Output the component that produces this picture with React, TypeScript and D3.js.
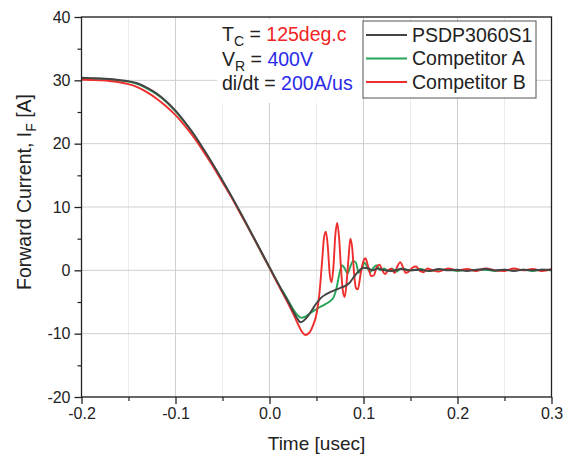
import React, { useEffect, useRef } from 'react';
import * as d3 from 'd3';

type Pt = [number, number];

// time [usec], forward current [A]
const psdp3060s1: Pt[] = [
  [-0.2, 30.4], [-0.19, 30.35], [-0.18, 30.3], [-0.17, 30.2], [-0.16, 30.05], [-0.15, 29.85], [-0.14, 29.5],
  [-0.13, 28.8], [-0.12, 27.9], [-0.11, 26.7], [-0.1, 25.2], [-0.09, 23.4], [-0.08, 21.4], [-0.07, 19.1],
  [-0.06, 16.7], [-0.05, 14.2], [-0.04, 11.6], [-0.03, 8.9], [-0.02, 6.1], [-0.01, 3.3], [0, 0.5],
  [0.01, -2.3], [0.02, -5.0], [0.025, -6.4], [0.03, -7.7], [0.033, -8.2], [0.036, -8.0], [0.04, -7.4],
  [0.045, -6.3], [0.05, -5.2], [0.055, -4.3], [0.06, -3.8], [0.065, -3.4], [0.07, -3.1], [0.075, -2.8],
  [0.08, -2.5], [0.085, -2.0], [0.09, -1.0], [0.095, -0.1], [0.1, 0.4], [0.105, 0.3], [0.11, 0.0],
  [0.115, 0.3], [0.12, 0.1], [0.13, -0.1], [0.14, 0.2], [0.15, 0.0], [0.16, 0.1], [0.17, -0.1],
  [0.18, 0.2], [0.19, 0.0], [0.2, 0.1], [0.21, -0.1], [0.22, 0.1], [0.23, 0.2], [0.24, 0.0], [0.25, 0.1],
  [0.26, -0.1], [0.27, 0.1], [0.28, 0.0], [0.29, 0.1], [0.3, 0.1],
];

const competitorA: Pt[] = [
  [-0.2, 30.3], [-0.18, 30.25], [-0.16, 30.0], [-0.15, 29.8], [-0.14, 29.4], [-0.13, 28.7], [-0.12, 27.8],
  [-0.11, 26.6], [-0.1, 25.1], [-0.09, 23.3], [-0.08, 21.3], [-0.07, 19.0], [-0.06, 16.6], [-0.05, 14.1],
  [-0.04, 11.5], [-0.03, 8.8], [-0.02, 6.0], [-0.01, 3.2], [0, 0.4], [0.01, -2.3], [0.02, -4.8],
  [0.025, -6.1], [0.03, -7.1], [0.034, -7.5], [0.038, -7.3], [0.042, -6.9], [0.046, -6.5], [0.05, -6.1],
  [0.055, -5.7], [0.06, -5.3], [0.065, -4.8], [0.068, -4.3], [0.071, -3.0], [0.074, -0.8], [0.077, 0.8],
  [0.08, 0.3], [0.083, -0.5], [0.086, 0.6], [0.089, 1.5], [0.092, 1.2], [0.095, -0.4], [0.098, 0.2],
  [0.101, 1.2], [0.104, 0.5], [0.107, -0.3], [0.11, 0.3], [0.114, 0.8], [0.118, 0.0], [0.122, 0.3],
  [0.126, -0.1], [0.13, 0.3], [0.135, -0.2], [0.14, 0.3], [0.15, 0.0], [0.16, 0.2], [0.17, -0.1],
  [0.18, 0.1], [0.19, 0.1], [0.2, -0.1], [0.21, 0.1], [0.22, 0.0], [0.23, 0.1], [0.24, -0.1], [0.25, 0.1],
  [0.26, 0.0], [0.27, 0.1], [0.28, -0.1], [0.29, 0.1], [0.3, 0.0],
];

const competitorB: Pt[] = [
  [-0.2, 30.1], [-0.19, 30.05], [-0.18, 30.0], [-0.17, 29.9], [-0.16, 29.7], [-0.15, 29.4], [-0.14, 28.9],
  [-0.13, 28.1], [-0.12, 27.1], [-0.11, 25.9], [-0.1, 24.5], [-0.09, 22.8], [-0.08, 20.9], [-0.07, 18.7],
  [-0.06, 16.4], [-0.05, 13.9], [-0.04, 11.4], [-0.03, 8.7], [-0.02, 6.0], [-0.01, 3.2], [0, 0.4],
  [0.01, -2.5], [0.02, -5.3], [0.025, -6.8], [0.03, -8.4], [0.035, -9.8], [0.038, -10.2], [0.042, -9.9],
  [0.046, -8.8], [0.05, -6.9], [0.053, -3.8], [0.056, 1.5], [0.058, 5.2], [0.06, 6.1], [0.062, 3.8],
  [0.064, -0.5], [0.066, -1.9], [0.068, 0.5], [0.07, 5.5], [0.072, 7.5], [0.074, 5.2], [0.076, 0.5],
  [0.078, -3.2], [0.08, -4.2], [0.082, -2.0], [0.084, 1.8], [0.086, 5.0], [0.088, 3.5], [0.09, -0.5],
  [0.092, -2.8], [0.094, -3.0], [0.097, -0.5], [0.1, 1.5], [0.102, 1.9], [0.105, 0.6], [0.108, -0.9],
  [0.111, -0.8], [0.114, 0.5], [0.117, 0.9], [0.12, 0.0], [0.123, -0.6], [0.126, 0.0], [0.13, 0.2],
  [0.133, -0.4], [0.136, 0.6], [0.139, 1.3], [0.142, 0.5], [0.145, -0.4], [0.148, -0.2], [0.152, 0.4],
  [0.156, 0.6], [0.16, -0.1], [0.164, -0.3], [0.168, 0.3], [0.172, 0.1], [0.18, -0.2], [0.19, 0.3],
  [0.2, 0.0], [0.21, 0.2], [0.22, -0.1], [0.23, 0.3], [0.24, 0.0], [0.25, -0.1], [0.26, 0.3], [0.27, 0.0],
  [0.28, 0.2], [0.29, -0.1], [0.3, 0.2],
];

const seriesNames = ['PSDP3060S1', 'Competitor A', 'Competitor B'];
const xTicks = [-0.2, -0.1, 0.0, 0.1, 0.2, 0.3];
const xMinorTicks = [-0.15, -0.05, 0.05, 0.15, 0.25];
const yTicks = [-20, -10, 0, 10, 20, 30, 40];
const yMinorTicks = [-15, -5, 5, 15, 25, 35];

const colors: Record<string, string> = {
  'PSDP3060S1': '#444444',
  'Competitor A': '#25a556',
  'Competitor B': '#ee2d2d',
};

const FONT = '"Liberation Sans", Arial, sans-serif';

const App = () => {
  const width = 564;
  const height = 459;
  const left = 81.5, right = 551.5, top = 17, bottom = 397;

  const xAxisRef = useRef<SVGGElement>(null);
  const yAxisRef = useRef<SVGGElement>(null);
  const xMinorRef = useRef<SVGGElement>(null);
  const yMinorRef = useRef<SVGGElement>(null);

  const x = d3.scaleLinear().domain([-0.2, 0.3]).range([left, right]);
  const y = d3.scaleLinear().domain([-20, 40]).range([bottom, top]);

  const line = d3.line<Pt>()
    .x(d => x(d[0]))
    .y(d => y(d[1]))
    .curve(d3.curveMonotoneX);

  const data: Record<string, Pt[]> = {
    'PSDP3060S1': psdp3060s1,
    'Competitor A': competitorA,
    'Competitor B': competitorB,
  };

  useEffect(() => {
    const xAxis = d3.axisBottom(x).tickValues(xTicks).tickSize(7).tickPadding(4)
      .tickFormat(d => (d as number).toFixed(1));
    const yAxis = d3.axisLeft(y).tickValues(yTicks).tickSize(7).tickPadding(4)
      .tickFormat(d => String(d));

    const gx = d3.select(xAxisRef.current!).call(xAxis);
    const gy = d3.select(yAxisRef.current!).call(yAxis);
    [gx, gy].forEach(g => {
      g.select('.domain').remove();
      g.selectAll('line').attr('stroke', '#222').attr('stroke-width', 1.3);
      g.selectAll('text')
        .attr('font-family', FONT)
        .attr('font-size', 16)
        .attr('fill', '#222');
    });

    const gxm = d3.select(xMinorRef.current!)
      .call(d3.axisBottom(x).tickValues(xMinorTicks).tickSize(4).tickFormat(() => ''));
    const gym = d3.select(yMinorRef.current!)
      .call(d3.axisLeft(y).tickValues(yMinorTicks).tickSize(4).tickFormat(() => ''));
    [gxm, gym].forEach(g => {
      g.select('.domain').remove();
      g.selectAll('line').attr('stroke', '#222').attr('stroke-width', 1.2);
    });
  }, []);

  const legendX = 363;
  const legendY = 21;
  const rowH = 23.5;

  return (
    <div style={{ position: 'absolute', left: 0, top: 0 }}>
      <svg width={width} height={height} style={{ display: 'block', background: '#fff' }}>
        {/* grid */}
        <g>
          {xMinorTicks.map(t => (
            <line key={'xm' + t} x1={x(t)} x2={x(t)} y1={top} y2={bottom} stroke="#ececec" strokeWidth={1} />
          ))}
          {xTicks.map(t => (
            <line key={'xg' + t} x1={x(t)} x2={x(t)} y1={top} y2={bottom} stroke="#cfcfcf" strokeWidth={1} />
          ))}
          {yTicks.map(t => (
            <line key={'yg' + t} x1={left} x2={right} y1={y(t)} y2={y(t)} stroke="#cfcfcf" strokeWidth={1} />
          ))}
        </g>

        {/* annotation background */}
        <rect x={217} y={top + 2} width={146} height={84} fill="#fff" />

        {/* curves */}
        {['Competitor A', 'Competitor B', 'PSDP3060S1'].map(name => (
          <path key={name} d={line(data[name]) || ''} fill="none" stroke={colors[name]}
            strokeWidth={1.9} strokeLinejoin="round" />
        ))}

        {/* frame */}
        <rect x={left} y={top} width={right - left} height={bottom - top} fill="none" stroke="#222" strokeWidth={1.3} />

        <g ref={xAxisRef} transform={`translate(0,${bottom})`} />
        <g ref={yAxisRef} transform={`translate(${left},0)`} />
        <g ref={xMinorRef} transform={`translate(0,${bottom})`} />
        <g ref={yMinorRef} transform={`translate(${left},0)`} />

        {/* conditions */}
        <g fontFamily={FONT} fontSize={19.5} fill="#222">
          <text x={222} y={41}>
            T<tspan fontSize={14} dy={5}>C</tspan><tspan dy={-5}> = </tspan>
            <tspan fill="#f02424">125deg.c</tspan>
          </text>
          <text x={222} y={65.5}>
            V<tspan fontSize={14} dy={5}>R</tspan><tspan dy={-5}> = </tspan>
            <tspan fill="#2a2ae8">400V</tspan>
          </text>
          <text x={222} y={90}>
            di/dt = <tspan fill="#2a2ae8">200A/us</tspan>
          </text>
        </g>

        {/* legend */}
        <g>
          <rect x={legendX} y={legendY} width={173} height={77} fill="#fff" stroke="#555" strokeWidth={1} />
          {seriesNames.map((name, i) => (
            <g key={name}>
              <line x1={legendX + 3} x2={legendX + 44} y1={legendY + 14 + i * rowH} y2={legendY + 14 + i * rowH}
                stroke={colors[name]} strokeWidth={1.8} />
              <text x={legendX + 49} y={legendY + 20.5 + i * rowH} fontFamily={FONT} fontSize={19.5} fill="#222">
                {name}
              </text>
            </g>
          ))}
        </g>

        {/* axis titles */}
        <text x={(left + right) / 2} y={450} textAnchor="middle" fontFamily={FONT} fontSize={19} fill="#222">
          Time [usec]
        </text>
        <text transform={`translate(31,192) rotate(-90)`} textAnchor="middle" fontFamily={FONT} fontSize={19.5} fill="#222">
          Forward Current, I<tspan fontSize={14} dy={5}>F</tspan><tspan dy={-5}> [A]</tspan>
        </text>
      </svg>
    </div>
  );
};

export default App;
